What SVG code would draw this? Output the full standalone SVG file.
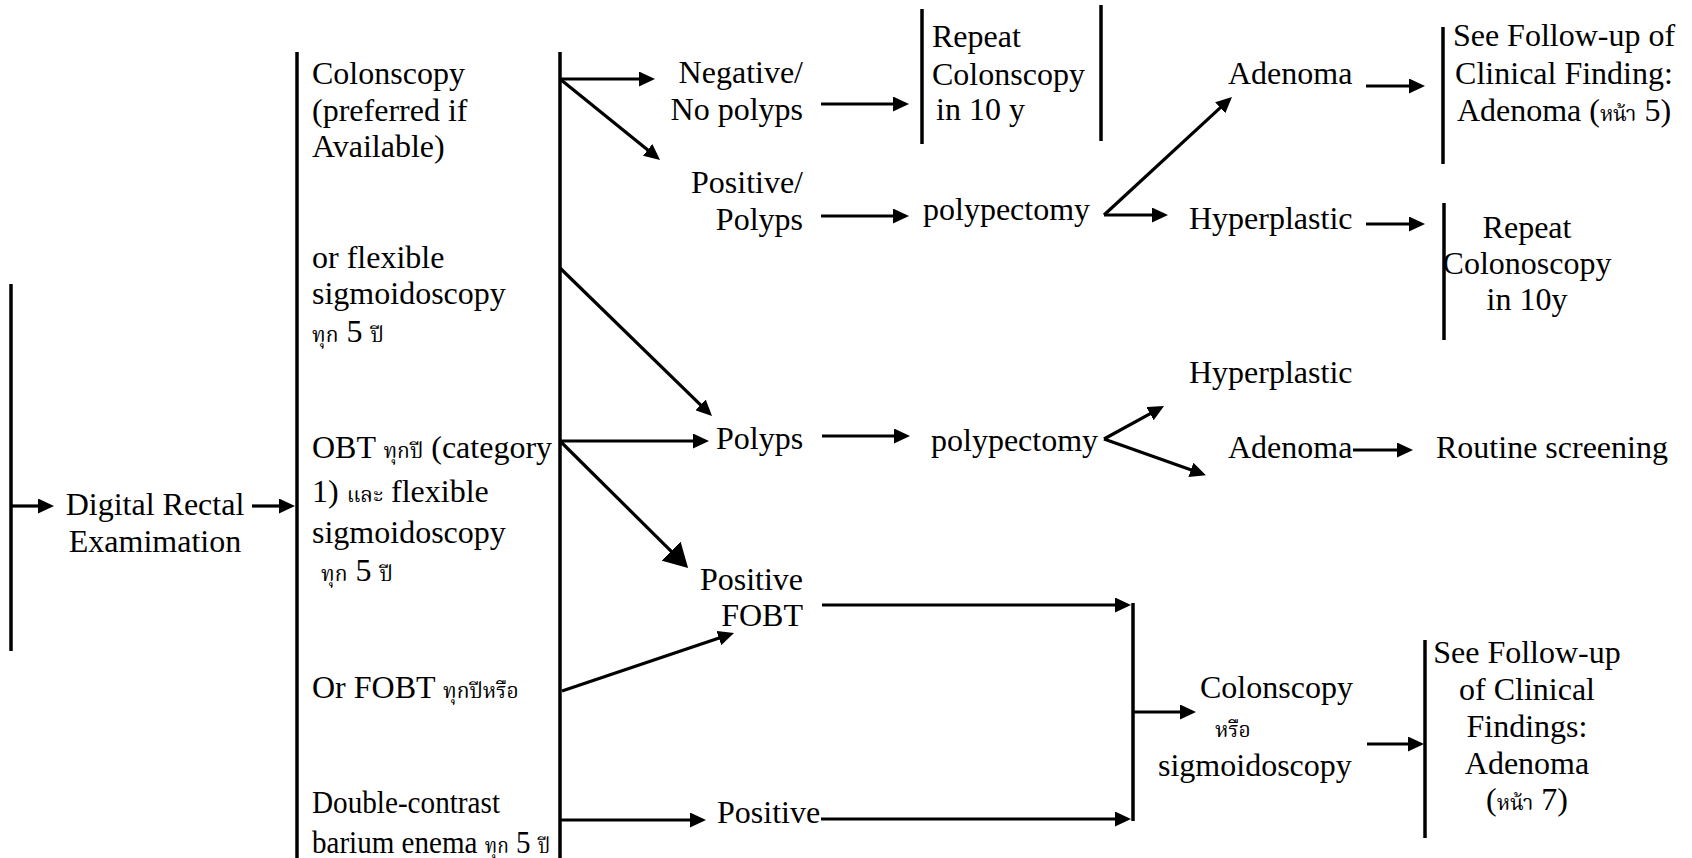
<svg xmlns="http://www.w3.org/2000/svg" width="1692" height="858" viewBox="0 0 1692 858">
  <style>
    text { font-family: "Liberation Serif", "Times New Roman", "Noto Serif Thai", "Noto Sans Thai", "Loma", "Garuda", "DejaVu Sans", serif; font-size: 32px; fill: #000; }
    .th { font-size: 21px; }
    .mid { text-anchor: middle; }
    .end { text-anchor: end; }
    .bar { stroke: #000; stroke-width: 3.5; fill: none; }
    .arr { stroke: #000; stroke-width: 3.2; fill: none; marker-end: url(#head); }
    .big { stroke: #000; stroke-width: 3.2; fill: none; marker-end: url(#bighead); }
  </style>
  <defs>
    <marker id="head" markerUnits="userSpaceOnUse" markerWidth="16" markerHeight="15" refX="5" refY="7.5" orient="auto">
      <path d="M0,0 L16,7.5 L0,15 z" fill="#000"/>
    </marker>
    <marker id="bighead" markerUnits="userSpaceOnUse" markerWidth="24" markerHeight="27" refX="6" refY="13.5" orient="auto">
      <path d="M0,0 L24,13.5 L0,27 z" fill="#000"/>
    </marker>
  </defs>
  <rect width="1692" height="858" fill="#fff"/>

  <!-- brackets and connectors -->
  <g id="connectors">
    <line class="bar" x1="11" y1="284" x2="11" y2="651"/>
    <line class="bar" x1="297" y1="52" x2="297" y2="858"/>
    <line class="bar" x1="560" y1="52" x2="560" y2="858"/>

    <line class="arr" x1="11" y1="506" x2="43" y2="506"/>
    <line class="arr" x1="252" y1="506" x2="284" y2="506"/>

    <line class="arr" x1="560" y1="79" x2="644" y2="79"/>
    <line class="arr" x1="560" y1="79" x2="651.5" y2="153.1"/>
    <line class="arr" x1="821" y1="104" x2="898" y2="104"/>
    <line class="bar" x1="922" y1="9" x2="922" y2="144"/>
    <line class="bar" x1="1101" y1="5" x2="1101" y2="141"/>

    <line class="arr" x1="821" y1="216" x2="898" y2="216"/>
    <path class="arr" d="M1104,215 L1223.9,104.4"/>
    <path class="arr" d="M1104,215 L1157,215"/>

    <line class="arr" x1="1366" y1="86" x2="1414" y2="86"/>
    <line class="bar" x1="1443" y1="27" x2="1443" y2="164"/>
    <line class="arr" x1="1366" y1="224" x2="1414" y2="224"/>
    <line class="bar" x1="1444" y1="203" x2="1444" y2="340"/>

    <line class="arr" x1="560" y1="268" x2="704.1" y2="408.3"/>
    <line class="arr" x1="560" y1="441" x2="698" y2="441"/>
    <line class="arr" x1="822" y1="436" x2="899" y2="436"/>
    <path class="arr" d="M1104,439 L1154.4,411.3"/>
    <path class="arr" d="M1104,439 L1195.6,471.5"/>
    <line class="arr" x1="1353" y1="450" x2="1402" y2="450"/>

    <line class="big" x1="560" y1="441" x2="675.3" y2="555.3"/>
    <line class="arr" x1="562" y1="691" x2="723.6" y2="636.5"/>
    <line class="arr" x1="560" y1="820" x2="695" y2="820"/>

    <line class="arr" x1="822" y1="605" x2="1120" y2="605"/>
    <line class="arr" x1="821" y1="819" x2="1120" y2="819"/>
    <line class="bar" x1="1133" y1="603" x2="1133" y2="821"/>
    <line class="arr" x1="1133" y1="712" x2="1185" y2="712"/>
    <line class="arr" x1="1367" y1="744" x2="1413" y2="744"/>
    <line class="bar" x1="1425" y1="640" x2="1425" y2="838"/>
  </g>

  <!-- nodes -->
  <g id="n-dre">
    <text class="mid" x="155" y="515">Digital Rectal</text>
    <text class="mid" x="155" y="552">Examimation</text>
  </g>
  <g id="n-colonoscopy">
    <text x="312" y="84">Colonscopy</text>
    <text x="312" y="121">(preferred if</text>
    <text x="312" y="157">Available)</text>
  </g>
  <g id="n-flexsig">
    <text x="312" y="268">or flexible</text>
    <text x="312" y="304">sigmoidoscopy</text>
    <text x="312" y="342"><tspan class="th">ทุก</tspan> 5 <tspan class="th">ปี</tspan></text>
  </g>
  <g id="n-obt">
    <text x="312" y="458">OBT <tspan class="th">ทุกปี</tspan> (category</text>
    <text x="312" y="502">1) <tspan class="th">และ</tspan> flexible</text>
    <text x="312" y="543">sigmoidoscopy</text>
    <text x="321" y="581"><tspan class="th">ทุก</tspan> 5 <tspan class="th">ปี</tspan></text>
  </g>
  <g id="n-fobt">
    <text x="312" y="698">Or FOBT <tspan class="th">ทุกปีหรือ</tspan></text>
  </g>
  <g id="n-barium">
    <text x="312" y="813" textLength="188" lengthAdjust="spacingAndGlyphs">Double-contrast</text>
    <text x="312" y="853" textLength="238" lengthAdjust="spacingAndGlyphs">barium enema <tspan class="th">ทุก</tspan> 5 <tspan class="th">ปี</tspan></text>
  </g>

  <g id="n-negative">
    <text class="end" x="803" y="83">Negative/</text>
    <text class="end" x="803" y="120">No polyps</text>
  </g>
  <g id="n-repeat1">
    <text x="932" y="47">Repeat</text>
    <text x="932" y="85">Colonscopy</text>
    <text x="936" y="120">in 10 y</text>
  </g>
  <g id="n-positive">
    <text class="end" x="803" y="193">Positive/</text>
    <text class="end" x="803" y="230">Polyps</text>
  </g>
  <g id="n-polypectomy1">
    <text x="923" y="220">polypectomy</text>
  </g>
  <g id="n-adenoma1">
    <text x="1228" y="84">Adenoma</text>
  </g>
  <g id="n-followup1">
    <text class="mid" x="1564" y="46">See Follow-up of</text>
    <text class="mid" x="1564" y="84">Clinical Finding:</text>
    <text class="mid" x="1564" y="121">Adenoma (<tspan class="th">หน้า</tspan> 5)</text>
  </g>
  <g id="n-hyper1">
    <text x="1189" y="229">Hyperplastic</text>
  </g>
  <g id="n-repeat2">
    <text class="mid" x="1527" y="238">Repeat</text>
    <text class="mid" x="1527" y="274">Colonoscopy</text>
    <text class="mid" x="1527" y="310">in 10y</text>
  </g>

  <g id="n-polyps">
    <text x="716" y="449">Polyps</text>
  </g>
  <g id="n-polypectomy2">
    <text x="931" y="451">polypectomy</text>
  </g>
  <g id="n-hyper2">
    <text x="1189" y="383">Hyperplastic</text>
  </g>
  <g id="n-adenoma2">
    <text x="1228" y="458">Adenoma</text>
  </g>
  <g id="n-routine">
    <text x="1436" y="458">Routine screening</text>
  </g>

  <g id="n-posfobt">
    <text class="end" x="803" y="590">Positive</text>
    <text class="end" x="803" y="626">FOBT</text>
  </g>
  <g id="n-positive2">
    <text x="717" y="823">Positive</text>
  </g>
  <g id="n-colsig">
    <text x="1200" y="698">Colonscopy</text>
    <text x="1215" y="737" class="th">หรือ</text>
    <text x="1158" y="776">sigmoidoscopy</text>
  </g>
  <g id="n-followup2">
    <text class="mid" x="1527" y="663">See Follow-up</text>
    <text class="mid" x="1527" y="700">of Clinical</text>
    <text class="mid" x="1527" y="737">Findings:</text>
    <text class="mid" x="1527" y="774">Adenoma</text>
    <text class="mid" x="1527" y="810">(<tspan class="th">หน้า</tspan> 7)</text>
  </g>
</svg>
